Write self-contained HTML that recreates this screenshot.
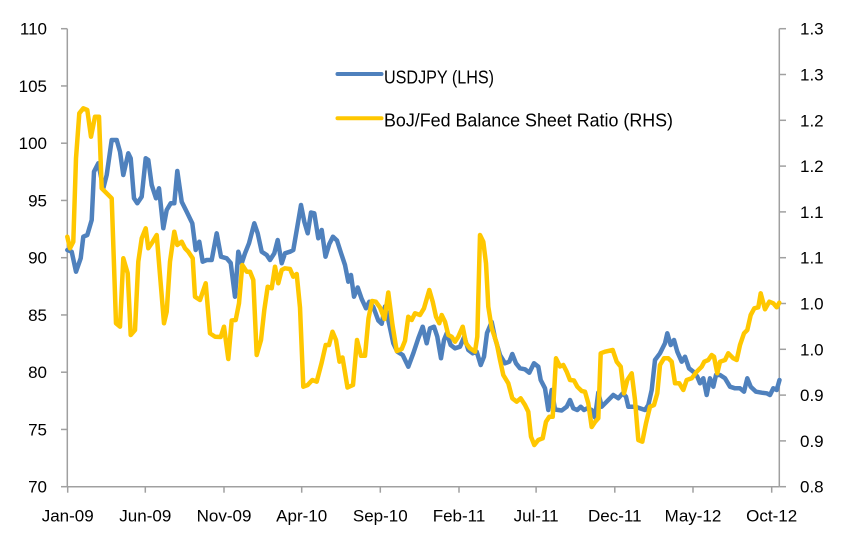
<!DOCTYPE html>
<html>
<head>
<meta charset="utf-8">
<style>
html,body{margin:0;padding:0;background:#fff;}
svg{display:block;}
text{font-family:"Liberation Sans",sans-serif;fill:#000;}
</style>
</head>
<body>
<svg width="845" height="551" viewBox="0 0 845 551" xmlns="http://www.w3.org/2000/svg">
<rect width="845" height="551" fill="#fff"/>
<!-- axes -->
<g stroke="#a0a0a0" stroke-width="1.5" fill="none">
<line x1="67.3" y1="28.7" x2="67.3" y2="486.7"/>
<line x1="779.3" y1="28.7" x2="779.3" y2="486.7"/>
<line x1="67.3" y1="486.7" x2="779.3" y2="486.7"/>
<!-- left ticks -->
<line x1="61" y1="28.7" x2="67.3" y2="28.7"/>
<line x1="61" y1="85.95" x2="67.3" y2="85.95"/>
<line x1="61" y1="143.2" x2="67.3" y2="143.2"/>
<line x1="61" y1="200.45" x2="67.3" y2="200.45"/>
<line x1="61" y1="257.7" x2="67.3" y2="257.7"/>
<line x1="61" y1="314.95" x2="67.3" y2="314.95"/>
<line x1="61" y1="372.2" x2="67.3" y2="372.2"/>
<line x1="61" y1="429.45" x2="67.3" y2="429.45"/>
<line x1="61" y1="486.7" x2="67.3" y2="486.7"/>
<!-- right ticks -->
<line x1="779.3" y1="28.7" x2="786" y2="28.7"/>
<line x1="779.3" y1="74.5" x2="786" y2="74.5"/>
<line x1="779.3" y1="120.3" x2="786" y2="120.3"/>
<line x1="779.3" y1="166.1" x2="786" y2="166.1"/>
<line x1="779.3" y1="211.9" x2="786" y2="211.9"/>
<line x1="779.3" y1="257.7" x2="786" y2="257.7"/>
<line x1="779.3" y1="303.5" x2="786" y2="303.5"/>
<line x1="779.3" y1="349.3" x2="786" y2="349.3"/>
<line x1="779.3" y1="395.1" x2="786" y2="395.1"/>
<line x1="779.3" y1="440.9" x2="786" y2="440.9"/>
<line x1="779.3" y1="486.7" x2="786" y2="486.7"/>
<!-- x ticks -->
<line x1="67.7" y1="486.7" x2="67.7" y2="492.7"/>
<line x1="145.3" y1="486.7" x2="145.3" y2="492.7"/>
<line x1="224" y1="486.7" x2="224" y2="492.7"/>
<line x1="301.7" y1="486.7" x2="301.7" y2="492.7"/>
<line x1="380.3" y1="486.7" x2="380.3" y2="492.7"/>
<line x1="459" y1="486.7" x2="459" y2="492.7"/>
<line x1="536.1" y1="486.7" x2="536.1" y2="492.7"/>
<line x1="614.8" y1="486.7" x2="614.8" y2="492.7"/>
<line x1="693" y1="486.7" x2="693" y2="492.7"/>
<line x1="771.7" y1="486.7" x2="771.7" y2="492.7"/>
</g>
<!-- left labels -->
<g font-size="17" text-anchor="end">
<text x="47" y="34.7">110</text>
<text x="47" y="92">105</text>
<text x="47" y="149.2">100</text>
<text x="47" y="206.5">95</text>
<text x="47" y="263.7">90</text>
<text x="47" y="321">85</text>
<text x="47" y="378.2">80</text>
<text x="47" y="435.5">75</text>
<text x="47" y="492.7">70</text>
</g>
<!-- right labels -->
<g font-size="17" text-anchor="start">
<text x="800" y="34.7">1.3</text>
<text x="800" y="80.5">1.3</text>
<text x="800" y="126.3">1.2</text>
<text x="800" y="172.1">1.2</text>
<text x="800" y="217.9">1.1</text>
<text x="800" y="263.7">1.1</text>
<text x="800" y="309.5">1.0</text>
<text x="800" y="355.3">1.0</text>
<text x="800" y="401.1">0.9</text>
<text x="800" y="446.9">0.9</text>
<text x="800" y="492.7">0.8</text>
</g>
<!-- x labels -->
<g font-size="17" text-anchor="middle">
<text x="67.7" y="521.7">Jan-09</text>
<text x="145.3" y="521.7">Jun-09</text>
<text x="224" y="521.7">Nov-09</text>
<text x="301.7" y="521.7">Apr-10</text>
<text x="380.3" y="521.7">Sep-10</text>
<text x="459" y="521.7">Feb-11</text>
<text x="536.1" y="521.7">Jul-11</text>
<text x="614.8" y="521.7">Dec-11</text>
<text x="693" y="521.7">May-12</text>
<text x="771.7" y="521.7">Oct-12</text>
</g>
<!-- USDJPY -->
<polyline fill="none" stroke="#4f81bd" stroke-width="4.5" stroke-linejoin="round" stroke-linecap="round" points="
67.3,250 71.7,251.7 76,271.7 80.7,258.3 83.3,236.7 87.3,235 91.7,220 94,171.7 98.3,163.3 103.3,188.3 106.7,175 111.7,140 116.7,140 120,151.7 123.3,175 128.3,153.3 130.7,158.3 134,198.3 137.3,203.3 141.7,196.7 145.7,158.3 148.3,160 151.7,185 156,198.3 159,188.3 163.3,228.3 166.7,210 170.7,203.3 174.3,203.3 177.3,171 181.7,201.7 186.7,211.7 192.3,223.3 195.7,250 199.3,241.7 202.7,261.7 206.7,260 211.7,260 216.7,233.3 221,256.7 226.7,258.3 230.7,263 235,296.7 238.3,251.7 241.7,263.3 245,253.3 249,243.3 254.3,223.3 257.7,233.3 261.7,251.7 266.7,255 270,260 274.3,253.3 277.7,240 281.7,263.3 285,253.3 290,251.7 293.3,250 297.3,226.7 301,205 304.3,221.7 307.7,233.3 311,212.5 314.3,213.3 318.3,238.3 321.7,230 325.5,256.7 329.3,244 333,236.7 337,240.5 341,253 345,265 348.3,281.7 351,275 354,296.7 357.7,287.5 361.7,299 366,308.3 369.3,301.7 373.3,307 378.3,320.5 381.7,323.8 385,306.5 388.3,320 393.3,343.3 397.3,351.7 402.7,355 408.3,366.7 413.3,353.3 418.3,338.3 422.7,326.7 426.7,343.3 430,328.3 434,326.7 437.3,336.7 441,358.3 444,340 446.7,333.3 450.7,345 455,348.3 460,346.7 464.3,336.7 468.3,350 472.7,353.3 476.7,351.7 480.7,365 484,356.7 487,333 491.7,322 495,338 500,355 505,363.3 509.3,361.7 512.3,354 516,363.3 520,368.3 525,369.3 529.3,372.7 534,363.3 538.3,366.7 540.7,380 545,388.3 548.3,410 551.7,390 555,409.5 561.7,410.5 566.7,406.7 570,400 573.3,408.3 577.3,410 580.7,406.7 584,410 587.3,408.3 591.7,410 595,417.5 598.3,392.5 601.7,406.7 606.7,401.7 613.3,395 618.3,398.3 622.7,393.3 626,396.7 628.3,406.7 635,406.7 640,408.3 645,410 648.3,405 651.7,390 655,360 660,353.3 665,343.3 667.3,333.3 670.7,345 674,340 677.3,351.7 681.7,361.7 685,356.7 689,368.3 693.3,371.7 697.3,376.7 700,383.3 703.3,378.3 706.7,395 710,378.3 713.3,386.7 716,375 720,375 725,378.3 730,386.7 735,388.3 740,388.3 744,391.7 747.3,378.3 750.7,386.7 756,391.7 761.7,392.7 766.7,393.3 770,395 773.3,388.3 776.7,390 779.5,380"/>
<!-- BoJ/Fed -->
<polyline fill="none" stroke="#ffc700" stroke-width="4.5" stroke-linejoin="round" stroke-linecap="round" points="
67.3,236.7 70,248.3 73.3,241.7 76,158.3 79.3,113.3 83.3,108.3 87.3,110 91,136.7 95,116.7 99,116.7 101.7,188.3 106.7,193.3 111.7,198.3 116,323.3 120,326.7 123.3,258.3 127.7,273.3 130.7,335 135,330 138.3,261.7 141.7,238.3 145.7,228.3 148.3,248.3 152.7,241.7 156.7,235 160,275 164,323.3 166.7,311.7 170,261.7 174.3,231.7 177.3,245 181.7,241.7 185,248.3 188.3,251.7 192.7,258.3 195,296.7 200,300 205.7,283.3 210,333.3 215,336.7 220.7,337 224,326.7 228.3,359 231.7,320.5 235.7,320 239,303.3 242.3,265 246.7,271.7 250,271.7 253.3,280 256.7,355 261,340 264.3,310 267.7,286.7 271.7,288.3 275,266.7 278.3,283.3 281.7,270 285,268.3 290,269 293.3,276.7 296.7,274 300,307.5 303.3,386.7 307.7,385 312.3,380 316.7,381.7 321.7,362.5 325.7,345 329,345 332.5,331.7 336,340 339.5,361.7 342.5,357.5 347.5,387.5 353,385 357,340 361,355.8 365,355.8 368.5,318.3 372,301 375.8,301.7 380,307.5 384.5,319 388.3,292.5 392.5,325 396.7,351 401.7,349 405,340.8 408.3,316.7 411.7,320 415,313.3 420,315 424,308.3 429.3,290 432.7,301.7 436,316.7 439.3,323.3 441.7,315 445,321.7 448.3,335 451.7,336.7 455,341.7 458.3,336.7 462.7,326.7 466,343.3 470,348.3 475,351.7 477.3,336.7 480,235 483.3,241.7 486,263.3 488.3,306.7 491.7,328 496.7,343.3 500,360 503.3,375 508.3,383.3 512.3,398.3 516.7,401.7 520.7,398.3 525,405 528.3,411.7 531,436.7 534.3,445 538.3,440 542.7,438.3 546,421.7 549.3,416.7 552.7,416.7 556,358.3 560,366.5 563.3,365 566.7,371.7 570,380 574,380.5 577.3,386.7 581.7,391 585,391.7 588.3,403.3 591.7,427 595,422 598.3,418.3 600.7,353.3 605,351.7 612.7,350 616.7,361.7 620.7,366.7 624,393.3 627.3,380 631.7,373.3 635,400 638.3,440 642.3,441.7 646,423.3 650,406.7 654,405 657.3,393.3 660,365 664,358.3 668.3,358.3 671.7,361.7 675,383.3 679.3,383.3 683.3,390 686.7,380 691.7,378.3 696.7,371.7 701.7,366.7 704.3,361.7 708.3,360 711.7,355 714,356.7 717.3,373.3 720,361.7 725,360 728.3,353.3 733.3,358.3 736.7,360 740,345 744,333.3 747.3,330 750.7,315 754.3,308.3 758.3,307.3 760.7,293.3 765,309.3 769.3,301.7 773.3,303.3 776.7,307.3 779.3,302.7"/>
<!-- legend -->
<line x1="337.5" y1="74" x2="381.5" y2="74" stroke="#4f81bd" stroke-width="4" stroke-linecap="round"/>
<text x="384" y="83.3" font-size="18" textLength="110" lengthAdjust="spacingAndGlyphs">USDJPY (LHS)</text>
<line x1="337.5" y1="118.3" x2="381.5" y2="118.3" stroke="#ffc700" stroke-width="4" stroke-linecap="round"/>
<text x="384" y="126.7" font-size="18" textLength="289" lengthAdjust="spacingAndGlyphs">BoJ/Fed Balance Sheet Ratio (RHS)</text>
</svg>
</body>
</html>
